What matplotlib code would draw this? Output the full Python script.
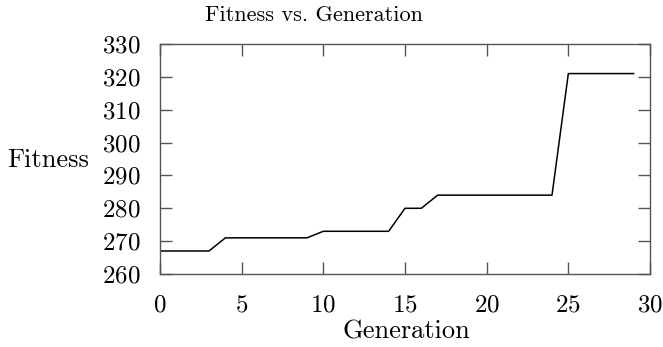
import matplotlib
matplotlib.use("Agg")
import matplotlib.pyplot as plt

plt.rcParams['font.family'] = 'cmr10'
plt.rcParams['axes.formatter.use_mathtext'] = True

# best fitness per generation
generations = list(range(30))
fitness = [267, 267, 267, 267,
           271, 271, 271, 271, 271, 271,
           273, 273, 273, 273, 273,
           280, 280,
           284, 284, 284, 284, 284, 284, 284, 284,
           321, 321, 321, 321, 321]

W, H = 663, 347
fig = plt.figure(figsize=(W / 100, H / 100), dpi=100)
ax = fig.add_axes([160 / W, (H - 274) / H, 490 / W, 230 / H])

ax.plot(generations, fitness, color='black', lw=1.1)

ax.set_xlim(0, 30)
ax.set_ylim(260, 330)
ax.set_xticks(range(0, 31, 5))
ax.set_yticks(range(260, 331, 10))

frame = '#555555'
for s in ax.spines.values():
    s.set_color(frame)
    s.set_linewidth(1.0)
ax.tick_params(direction='in', top=True, right=True, length=8.6, width=1.0,
               color=frame, labelsize=18)
ax.tick_params(axis='y', pad=14)
ax.tick_params(axis='x', pad=14.5)

fig.text(406 / W, 1 - 332 / H, 'Generation', fontsize=19, ha='center', va='center')
fig.text(7 / W, 1 - 160 / H, 'Fitness', fontsize=19, ha='left', va='center')
fig.text(314 / W, 1 - 15 / H, 'Fitness vs. Generation', fontsize=16,
         ha='center', va='center')

fig.savefig('out.png', dpi=100)
